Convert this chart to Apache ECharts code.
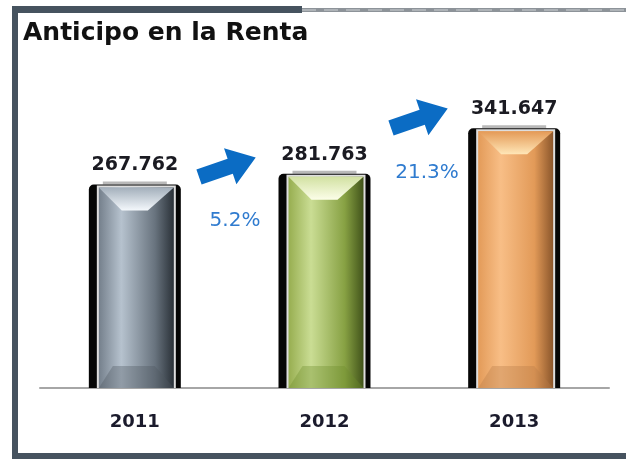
<!DOCTYPE html>
<html>
<head>
<meta charset="utf-8">
<script src="https://cdn.jsdelivr.net/npm/echarts@6/dist/echarts.min.js"></script>
<style>
html, body { margin: 0; padding: 0; background: #fff; }
#chart { width: 626px; height: 459px; }
</style>
</head>
<body>
<div id="chart"></div>
<script>
var years = ['2011', '2012', '2013'];
var values = [267.762, 281.763, 341.647];

// body gradient stops, bevel top, bevel highlight, bottom bevel
var palettes = [
	{ body: ['#75808c', '#b6c2ce', '#68737e', '#2a3138'], bevelTop: '#a3afbb', bevelHi: '#f4f8fc', bottom: '#4c555f' },
	{ body: ['#97ae50', '#cadd94', '#87a143', '#41531a'], bevelTop: '#d2e1a2', bevelHi: '#fcfee9', bottom: '#6e8b2b' },
	{ body: ['#e39b59', '#f8be86', '#e29a58', '#8b562b'], bevelTop: '#e49a57', bevelHi: '#ffe7b8', bottom: '#b77b49' }
];

var growth = [];
for (var k = 1; k < values.length; k++) {
	growth.push(((values[k] / values[k - 1] - 1) * 100).toFixed(1) + '%');
}

function renderBar(params, api) {
	var i = api.value(0), v = api.value(1);
	var top = api.coord([i, v]);
	var base = api.coord([i, 0]);
	var band = api.size([1, 0])[0];
	var w = band * 0.485;
	var cx = top[0], x0 = cx - w / 2, y0 = top[1], h = base[1] - y0;
	var p = palettes[i];
	var bx0 = x0 + 10, bx1 = x0 + w - 7;
	return {
		type: 'group',
		children: [
			{ type: 'rect', shape: { x: x0 + 14, y: y0 - 3, width: w - 28, height: 3 }, style: { fill: '#b9b9b9' } },
			{ type: 'rect', shape: { x: x0, y: y0, width: w, height: h, r: [5, 5, 0, 0] }, style: { fill: '#060606' } },
			{ type: 'rect', shape: { x: x0 + 8, y: y0 + 1, width: w - 13, height: h - 1 }, style: { fill: '#dedede' } },
			{ type: 'rect', shape: { x: bx0, y: y0 + 3, width: bx1 - bx0, height: h - 3 },
				style: { fill: new echarts.graphic.LinearGradient(0, 0, 1, 0, [
					{ offset: 0, color: p.body[0] }, { offset: 0.3, color: p.body[1] },
					{ offset: 0.75, color: p.body[2] }, { offset: 1, color: p.body[3] }]) } },
			{ type: 'polygon', shape: { points: [[bx0, y0 + 3], [bx1, y0 + 3], [cx + 13, y0 + 26], [cx - 13, y0 + 26]] },
				style: { fill: new echarts.graphic.LinearGradient(0, 0, 0, 1, [
					{ offset: 0, color: p.bevelTop }, { offset: 1, color: p.bevelHi }]) } },
			{ type: 'polygon', shape: { points: [[bx0, base[1]], [bx1, base[1]], [cx + 20, base[1] - 22], [cx - 22, base[1] - 22]] },
				style: { fill: p.bottom, opacity: 0.35 } },
			{ type: 'text', style: { text: v.toFixed(3), x: cx, y: y0 - 19, align: 'center', verticalAlign: 'middle',
				font: 'bold 19px "DejaVu Sans"', fill: '#1b1b22' } }
		]
	};
}

function arrow(x, y) {
	return {
		type: 'polygon', x: x, y: y, rotation: 19 * Math.PI / 180,
		shape: { points: [[0, -8], [33, -8], [33, -19], [60, 0], [33, 19], [33, 8], [0, 8]] },
		style: { fill: '#0b6cc4' }
	};
}

var chart = echarts.init(document.getElementById('chart'));
chart.setOption({
	animation: false,
	title: {
		text: 'Anticipo en la Renta',
		left: 18,
		top: 16,
		textStyle: { fontFamily: 'DejaVu Sans', fontWeight: 'bold', fontSize: 25, color: '#111' }
	},
	grid: { left: 40, right: 17, top: 84, bottom: 71 },
	xAxis: {
		type: 'category',
		data: years,
		axisLine: { lineStyle: { color: '#a6a6a6', width: 2 } },
		axisTick: { show: false },
		axisLabel: { margin: 25, fontFamily: 'DejaVu Sans', fontWeight: 'bold', fontSize: 18, color: '#1b1b2c' }
	},
	yAxis: { type: 'value', min: 0, max: 400, show: false, splitLine: { show: false } },
	series: [{
		type: 'custom',
		renderItem: renderBar,
		encode: { x: 0, y: 1 },
		data: values.map(function (v, i) { return [i, v]; }),
		z: 2
	}],
	graphic: [
		{ type: 'rect', shape: { x: 12, y: 6, width: 290, height: 7 }, style: { fill: '#46535f' } },
		{ type: 'rect', shape: { x: 302, y: 8, width: 324, height: 4 }, style: { fill: '#8d9399' } },
		{ type: 'line', shape: { x1: 302, y1: 10, x2: 626, y2: 10 }, style: { stroke: '#cfd3d6', lineWidth: 1, lineDash: [14, 8] } },
		{ type: 'rect', shape: { x: 12, y: 6, width: 6, height: 453 }, style: { fill: '#46535f' } },
		{ type: 'rect', shape: { x: 12, y: 453, width: 614, height: 6 }, style: { fill: '#46535f' } },
		arrow(199, 177),
		arrow(391, 128),
		{ type: 'text', style: { text: growth[0], x: 235, y: 221, align: 'center', verticalAlign: 'middle',
			font: '20px "DejaVu Sans"', fill: '#2f7bcf' } },
		{ type: 'text', style: { text: growth[1], x: 427, y: 173, align: 'center', verticalAlign: 'middle',
			font: '20px "DejaVu Sans"', fill: '#2f7bcf' } }
	]
});
</script>
</body>
</html>
